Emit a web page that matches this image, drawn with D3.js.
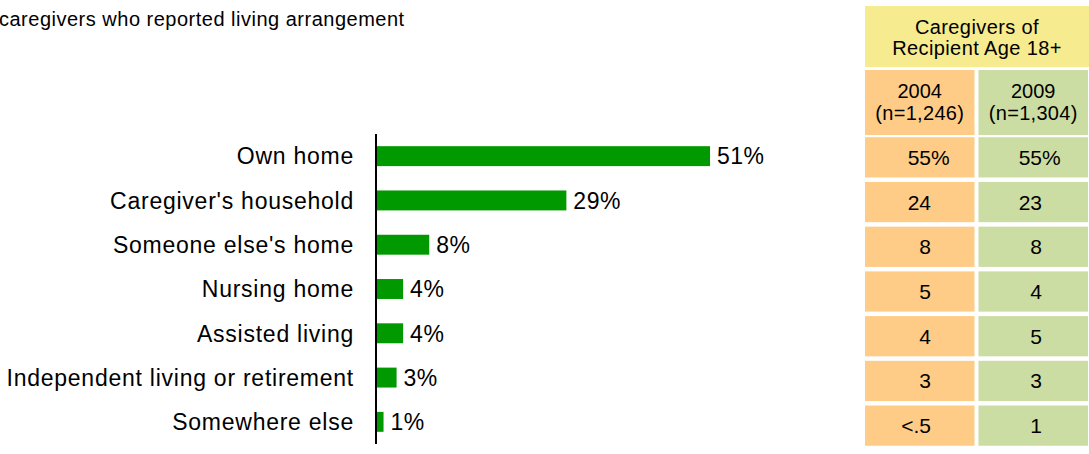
<!DOCTYPE html>
<html><head><meta charset="utf-8">
<script src="https://cdn.jsdelivr.net/npm/d3@7"></script>
<style>body{margin:0;background:#fff;overflow:hidden}svg{display:block;font-family:Arial,"Liberation Sans",sans-serif}</style>
</head><body>
<svg id="c" width="1089" height="454"></svg>
<script>
const title = "caregivers who reported living arrangement";
const categories = ["Own home","Caregiver's household","Someone else's home","Nursing home","Assisted living","Independent living or retirement","Somewhere else"];
const values = [51, 29, 8, 4, 4, 3, 1];
const tableTitle = ["Caregivers of", "Recipient Age 18+"];
const years = ["2004", "2009"];
const sampleSizes = ["(n=1,246)", "(n=1,304)"];
const values2004 = ["55%", "24", "8", "5", "4", "3", "<.5"];
const values2009 = ["55%", "23", "8", "4", "5", "3", "1"];

const svg = d3.select("#c");

svg.append("text").attr("x", -1).attr("y", 26).attr("font-size", 20).attr("letter-spacing", "0.5px")
  .attr("fill", "#000").text(title);

const x = d3.scaleLinear().domain([0, 100]).range([377, 1030]);
const y = d3.scaleBand().domain(categories).range([134, 444]).paddingInner(0.55).paddingOuter(0.275);

svg.selectAll("rect.bar").data(categories).join("rect").attr("class", "bar")
  .attr("x", x(0)).attr("y", d => y(d)).attr("height", y.bandwidth())
  .attr("width", (d, i) => x(values[i]) - x(0)).attr("fill", "#009900");

svg.selectAll("text.cat").data(categories).join("text").attr("class", "cat")
  .attr("x", 354).attr("y", d => y(d) + y.bandwidth() / 2).attr("dy", "0.36em")
  .attr("text-anchor", "end").attr("font-size", 23).attr("letter-spacing", "0.75px").text(d => d);

svg.selectAll("text.val").data(categories).join("text").attr("class", "val")
  .attr("x", (d, i) => x(values[i]) + 7).attr("y", d => y(d) + y.bandwidth() / 2).attr("dy", "0.36em")
  .attr("font-size", 23).attr("letter-spacing", "0.5px").text((d, i) => values[i] + "%");

svg.append("line").attr("x1", 376).attr("x2", 376).attr("y1", 134).attr("y2", 444)
  .attr("stroke", "#000").attr("stroke-width", 2);

// table
const cols = d3.scaleBand().domain(years).range([865, 1088]).paddingInner(0.035);
const colFill = {"2004": "#FFCC88", "2009": "#CCDDA3"};
const rows = d3.scaleBand().domain(categories).range([135, 448]).paddingInner(0.1).paddingOuter(0.05);

svg.append("rect").attr("x", 865).attr("y", 6).attr("width", 230).attr("height", 61).attr("fill", "#F6EB8F");
svg.selectAll("text.th").data(tableTitle).join("text").attr("class", "th")
  .attr("x", 977).attr("y", (d, i) => 34 + i * 21).attr("text-anchor", "middle")
  .attr("font-size", 20).attr("letter-spacing", "0.4px").text(d => d);

svg.selectAll("rect.sub").data(years).join("rect").attr("class", "sub")
  .attr("x", d => cols(d)).attr("y", 70).attr("width", cols.bandwidth()).attr("height", 65)
  .attr("fill", d => colFill[d]);
svg.selectAll("text.yr").data(years).join("text").attr("class", "yr")
  .attr("x", d => cols(d) + cols.bandwidth() / 2).attr("y", 98).attr("text-anchor", "middle")
  .attr("font-size", 20).text(d => d);
svg.selectAll("text.n").data(years).join("text").attr("class", "n")
  .attr("x", d => cols(d) + cols.bandwidth() / 2).attr("y", 120).attr("text-anchor", "middle")
  .attr("font-size", 20).attr("letter-spacing", "0.3px").text((d, i) => sampleSizes[i]);

const tableData = {"2004": values2004, "2009": values2009};
const rightEdge = {"2004": 931, "2009": 1042};
years.forEach(yr => {
  svg.selectAll("rect.c" + yr).data(categories).join("rect").attr("class", "c" + yr)
    .attr("x", cols(yr)).attr("y", d => rows(d)).attr("width", cols.bandwidth()).attr("height", rows.bandwidth())
    .attr("fill", colFill[yr]);
  const g = svg.selectAll("text.t" + yr).data(categories).join("text").attr("class", "t" + yr)
    .attr("font-size", 21).attr("y", d => rows(d) + rows.bandwidth() / 2).attr("dy", "0.36em");
  g.each(function(d, i) {
    const v = tableData[yr][i];
    const num = v.replace("%", "");
    const el = d3.select(this);
    el.append("tspan").attr("x", rightEdge[yr]).attr("text-anchor", "end").text(num);
    if (v.endsWith("%")) {
      el.append("tspan").attr("x", rightEdge[yr]).attr("text-anchor", "start").text("%");
    }
  });
});
</script>
</body></html>
